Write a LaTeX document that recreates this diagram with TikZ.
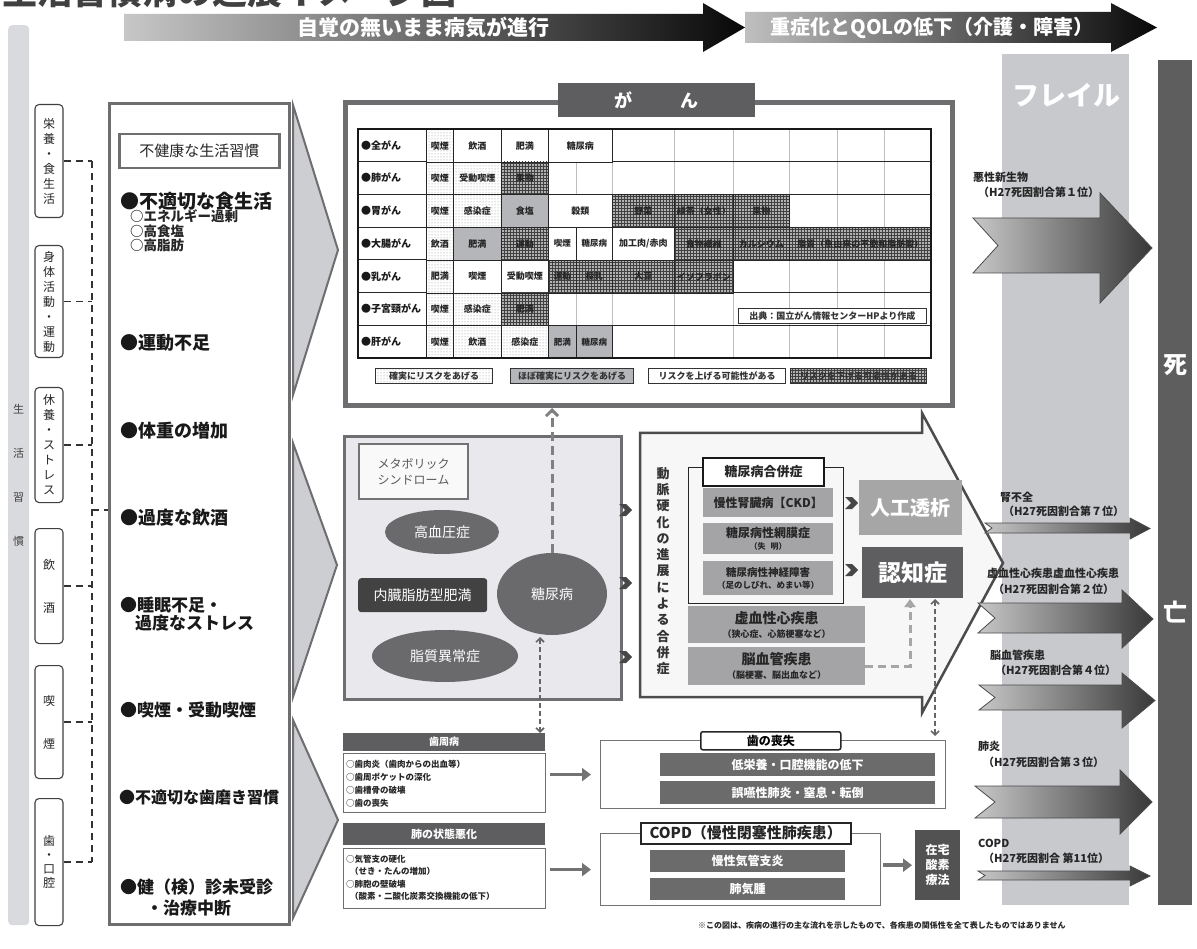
\documentclass[tikz,border=0pt]{standalone}
\usepackage{fontspec}
\setmainfont{Noto Sans CJK JP}
\usetikzlibrary{shapes.geometric,arrows.meta,patterns,calc}
\newcommand\fsz[1]{\fontsize{#1}{#1}\selectfont}
\definecolor{bordg}{HTML}{6E6E70}
\definecolor{darkg}{HTML}{5E5E61}
\definecolor{frailc}{HTML}{C7C9CD}
\definecolor{leftg}{HTML}{D9DADE}
\definecolor{chevc}{HTML}{CDCED2}
\definecolor{metabc}{HTML}{E9E9ED}
\definecolor{ellg}{HTML}{6A6A6D}
\definecolor{barg}{HTML}{A4A4A7}
\definecolor{probg}{HTML}{B5B6BA}
\newcommand\bx[7]{\pgfmathsetmacro\bxw{#4-#2}\pgfmathsetmacro\bxh{#5-#3}%
  \node[inner sep=0pt, #6, anchor=north west, minimum width=\bxw pt, minimum height=\bxh pt] (#1) at (#2,#3) {#7};}
\newcommand\tc[6]{\pgfmathsetmacro\bxw{#3-#2}%
  \node[#5, minimum width=\bxw pt] (#1) at (#2,#4) {#6};}
\newcommand\chip[2]{\fill[black!72] (#1-5,#2-6) -- (#1+2,#2-6) -- (#1+8,#2) -- (#1+2,#2+6) -- (#1-5,#2+6) -- (#1+1,#2) -- cycle;}
\newcommand\darrow[8]{\draw[darr] (#1,#3) -- (#5,#3) -- (#5,#6) -- (#8,{(#6+#7)/2}) -- (#5,#7) -- (#5,#4) -- (#1,#4) -- (#2,{(#3+#4)/2}) -- cycle;}
\begin{document}
\begin{tikzpicture}[x=1pt,y=-1pt,
  cat/.style={draw=black!75, line width=1.1pt, rounded corners=4pt, fill=white, minimum width=28pt, inner sep=0pt, align=center, font=\fontsize{12}{15}\selectfont, text=black!85, anchor=north},
  item/.style={anchor=west, font=\bfseries\fsz{18}, text=black!90, inner sep=0pt},
  sub/.style={anchor=west, font=\bfseries\fsz{13.5}, text=black!85, inner sep=0pt},
  dashc/.style={draw=black!80, line width=1.6pt, dash pattern=on 7pt off 5pt},
  chevron/.style={fill=chevc, draw=bordg, line width=2pt, line join=miter},
  sfill/.style={preaction={fill=white}, pattern=dots, pattern color=black!45},
  dfill/.style={preaction={fill=black!30}, pattern=grid, pattern color=black!75},
  tcell/.style={draw=black!85, line width=0.6pt, font=\bfseries\fsz{9}, text=black!85, anchor=north west, minimum height=32.7pt, inner sep=0pt},
  sure/.style={tcell, sfill},
  prob/.style={tcell, fill=probg},
  poss/.style={tcell, fill=white},
  down/.style={tcell, dfill},
  rowlab/.style={anchor=west, font=\bfseries\fsz{10}, text=black!90, inner sep=0pt},
  legend/.style={draw=black!80, line width=1.2pt, font=\bfseries\fsz{9}, text=black!80},
  ell/.style={ellipse, fill=ellg, text=white, font=\fsz{14}, inner sep=0pt},
  bar/.style={fill=barg, text=black!85, align=center},
  deathlab/.style={font=\bfseries\fsz{11}, text=black!85, anchor=west, inner sep=0pt},
  darr/.style={draw=black!70, line width=0.8pt, left color=black!22, right color=black!78},
  hdr/.style={fill=darkg, text=white, font=\bfseries\fsz{10}},
  listbox/.style={draw=bordg, line width=1pt, fill=white},
  listtxt/.style={anchor=west, font=\bfseries\fsz{8.5}, text=black!85, inner sep=0pt},
  gbar/.style={fill=black!58, text=white, font=\bfseries\fsz{12}},
  grarrow/.style={-{Triangle[length=9pt,width=13pt]}, line width=3.5pt, draw=black!55},
  dmarr/.style={draw=black!50, line width=3pt, dash pattern=on 9pt off 5pt, -{Straight Barb[length=6pt,width=12pt]}},
  thinarr/.style={draw=black!60, line width=1.6pt, dash pattern=on 5pt off 3pt, {Straight Barb[length=4pt,width=8pt]}-{Straight Barb[length=4pt,width=8pt]}}
]
\useasboundingbox (0,0) rectangle (1197,949);
\fill[white] (0,0) rectangle (1197,949);

% title (cut at top): only the lowest strokes show
\begin{scope}
\clip (0,0) rectangle (470,9);
\node[anchor=base west, inner sep=0pt, font=\bfseries\fsz{35}, text=black!75] (title) at (2,5) {生活習慣病の進展イメージ図};
\end{scope}

% top progression arrows
\draw[draw=none, left color=black!22, right color=black!97] (124,14) -- (703,14) -- (703,3) -- (745,27.5) -- (703,52) -- (703,41) -- (124,41) -- cycle;
\node[text=white, font=\bfseries\fsz{21}] (prog1) at (423,27.5) {自覚の無いまま病気が進行};
\draw[draw=none, left color=black!25, right color=black!97] (745,12) -- (1111,12) -- (1111,3) -- (1157,27.5) -- (1111,52) -- (1111,43) -- (745,43) -- cycle;
\node[text=white, font=\bfseries\fsz{20}] (prog2) at (932,28) {重症化とQOLの低下（介護・障害）};

% background columns
\bx{lifecol}{8}{25}{29}{925}{fill=leftg, rounded corners=4pt}{}
\node[font=\fontsize{11}{44}\selectfont, align=center, text=black!75, inner sep=0pt] (lifetxt) at (18.5,475) {生\\活\\習\\慣};
\bx{frail}{1002}{54}{1129}{905}{fill=frailc}{}
\node[text=white, font=\bfseries\fsz{27}] (frailtxt) at (1066,95) {フレイル};
\bx{death}{1158}{60}{1192}{905}{fill=black!63}{}
\node[text=white, font=\bfseries\fsz{24}] (death1) at (1175,365) {死};
\node[text=white, font=\bfseries\fsz{24}] (death2) at (1175,612) {亡};

% category boxes
\node[cat, minimum height=113pt] (c1) at (49,104) {栄\\養\\・\\食\\生\\活};
\node[cat, minimum height=112pt] (c2) at (49,245) {身\\体\\活\\動\\・\\運\\動};
\node[cat, minimum height=115pt] (c3) at (49,387) {休\\養\\・\\ス\\ト\\レ\\ス};
\node[cat, minimum height=115pt] (c4) at (49,528) {飲\\[28pt]酒};
\node[cat, minimum height=113pt] (c5) at (49,665) {喫\\[28pt]煙};
\node[cat, minimum height=127pt, font=\fontsize{12}{14}\selectfont] (c6) at (49,798) {歯\\・\\口\\腔};

% habits box
\bx{habits}{108}{102}{288}{923}{draw=bordg, line width=3pt, fill=white}{}
\bx{habhdr}{118}{133}{278}{167}{draw=bordg, line width=2.5pt, fill=white, font=\fsz{15}, text=black!85}{不健康な生活習慣}
\coordinate (spine) at (92,0);
\coordinate (tick) at (92,510);
\foreach \c in {c1,c2,c3,c4,c5,c6} \draw[dashc] (\c.east) -- (\c.east -| spine);
\draw[dashc] (c1.east -| spine) -- (c6.east -| spine);
\draw[dashc] (tick) -- (tick -| habits.west);

\node[item, font=\bfseries\fsz{19}] (i1) at (120,201) {●不適切な食生活};
\node[sub] (i1a) at (130,216) {○エネルギー過剰};
\node[sub] (i1b) at (130,231) {○高食塩};
\node[sub] (i1c) at (130,245) {○高脂肪};
\node[item] (i2) at (120,343) {●運動不足};
\node[item] (i3) at (120,431) {●体重の増加};
\node[item] (i4) at (120,518) {●過度な飲酒};
\node[item, font=\bfseries\fsz{17}] (i5) at (120,605) {●睡眠不足・};
\node[item, font=\bfseries\fsz{17}] (i5b) at (135,623) {過度なストレス};
\node[item, font=\bfseries\fsz{17}] (i6) at (120,710) {●喫煙・受動喫煙};
\node[item, font=\bfseries\fsz{16}] (i7) at (119,797) {●不適切な歯磨き習慣};
\node[item, font=\bfseries\fsz{17}] (i8) at (120,887) {●健（検）診未受診};
\node[item, font=\bfseries\fsz{17}] (i8b) at (146,908) {・治療中断};

% chevrons
\draw[chevron] (293,105) -- (338,250) -- (293,395) -- cycle;
\draw[chevron] (293,443) -- (337,565) -- (293,697) -- cycle;
\draw[chevron] (293,720) -- (338,820) -- (293,918) -- cycle;

% cancer box
\bx{cancer}{343}{100}{950}{403}{draw=bordg, line width=5pt, fill=white}{}
\bx{canhdr}{558}{83}{755}{117}{fill=darkg, text=white, font=\bfseries\fsz{18}}{が\hspace{48pt}ん}
\foreach \x in {548,576,612,674,733,789,837,884} \draw[black!25, line width=0.6pt] (\x,129) -- (\x,358);
\foreach \y in {161.7,194.4,227.1,259.9,292.6,325.3} \draw[black!85, line width=0.9pt] (358,\y) -- (931,\y);
\draw[black!85, line width=0.9pt] (426,129) -- (426,358);
\node[rowlab] (l0) at (361,145.4) {●全がん};
\node[rowlab] (l1) at (361,178.1) {●肺がん};
\node[rowlab] (l2) at (361,210.8) {●胃がん};
\node[rowlab] (l3) at (361,243.5) {●大腸がん};
\node[rowlab] (l4) at (361,276.2) {●乳がん};
\node[rowlab] (l5) at (361,308.9) {●子宮頸がん};
\node[rowlab] (l6) at (361,341.6) {●肝がん};
\tc{t01}{426}{453}{129}{sure}{喫煙}
\tc{t02}{453}{501}{129}{poss}{飲酒}
\tc{t03}{501}{548}{129}{poss}{肥満}
\tc{t04}{548}{612}{129}{poss}{糖尿病}
\tc{t11}{426}{453}{161.7}{sure}{喫煙}
\tc{t12}{453}{501}{161.7}{sure}{受動喫煙}
\tc{t13}{501}{548}{161.7}{down}{果物}
\tc{t21}{426}{453}{194.4}{sure}{喫煙}
\tc{t22}{453}{501}{194.4}{sure}{感染症}
\tc{t23}{501}{548}{194.4}{prob}{食塩}
\tc{t24}{548}{612}{194.4}{poss}{穀類}
\tc{t25}{612}{674}{194.4}{down}{野菜}
\tc{t26}{674}{733}{194.4}{down}{緑茶（女性）}
\tc{t27}{733}{789}{194.4}{down}{果物}
\tc{t31}{426}{453}{227.1}{sure}{飲酒}
\tc{t32}{453}{501}{227.1}{prob}{肥満}
\tc{t33}{501}{548}{227.1}{down}{運動}
\tc{t34}{548}{576}{227.1}{poss, font=\bfseries\fsz{8.5}}{喫煙}
\tc{t35}{576}{612}{227.1}{poss, font=\bfseries\fsz{8.5}}{糖尿病}
\tc{t36}{612}{674}{227.1}{poss}{加工肉/赤肉}
\tc{t37}{674}{733}{227.1}{down}{食物繊維}
\tc{t38}{733}{789}{227.1}{down}{カルシウム}
\tc{t39}{789}{931}{227.1}{down}{脂質（魚由来の不飽和脂肪酸）}
\tc{t41}{426}{453}{259.9}{sure}{肥満}
\tc{t42}{453}{501}{259.9}{poss}{喫煙}
\tc{t43}{501}{548}{259.9}{poss}{受動喫煙}
\tc{t44}{548}{576}{259.9}{down, font=\bfseries\fsz{8.5}}{運動}
\tc{t45}{576}{612}{259.9}{down, font=\bfseries\fsz{8.5}}{授乳}
\tc{t46}{612}{674}{259.9}{down}{大豆}
\tc{t47}{674}{733}{259.9}{down}{イソフラボン}
\tc{t51}{426}{453}{292.6}{sure}{喫煙}
\tc{t52}{453}{501}{292.6}{sure}{感染症}
\tc{t53}{501}{548}{292.6}{down}{肥満}
\tc{t61}{426}{453}{325.3}{sure}{喫煙}
\tc{t62}{453}{501}{325.3}{sure}{飲酒}
\tc{t63}{501}{548}{325.3}{sure}{感染症}
\tc{t64}{548}{576}{325.3}{prob, font=\bfseries\fsz{8.5}}{肥満}
\tc{t65}{576}{612}{325.3}{prob, font=\bfseries\fsz{8.5}}{糖尿病}
\draw[black!90, line width=1.3pt] (358,129) rectangle (931,358);
\bx{src}{738}{308}{926}{323}{draw=black!80, line width=0.8pt, fill=white, font=\bfseries\fsz{9}, text=black!80}{出典：国立がん情報センターHPより作成}
\bx{lg1}{375}{368}{492}{383}{legend, sfill}{確実にリスクをあげる}
\bx{lg2}{510}{368}{633}{383}{legend, fill=probg}{ほぼ確実にリスクをあげる}
\bx{lg3}{648}{368}{785}{383}{legend, fill=white}{リスクを上げる可能性がある}
\bx{lg4}{790}{368}{926}{383}{legend, dfill}{リスクを下げる可能性がある}

% metabolic syndrome
\bx{metab}{343}{435}{620}{698}{draw=bordg, line width=3pt, fill=metabc}{}
\bx{mslab}{358}{443}{467}{498}{draw=black!55, line width=2pt, fill=white!95!gray, align=center, font=\fontsize{12}{16}\selectfont, text=black!65}{メタボリック\\シンドローム}
\node[ell, minimum width=114pt, minimum height=44pt] (htn) at (442,532) {高血圧症};
\bx{visc}{358}{578}{487}{612}{fill=black!74, rounded corners=3pt, text=white, font=\fsz{14}}{内臓脂肪型肥満}
\node[ell, minimum width=146pt, minimum height=52pt] (dysl) at (445,656) {脂質異常症};
\node[ell, minimum width=110pt, minimum height=82pt] (dm) at (552,594) {糖尿病};
\draw[dmarr] (dm.north) -- (dm.north |- cancer.south);
\chip{624}{510}
\chip{624}{583}
\chip{624}{657}

% complications arrow
\draw[draw=black!70, line width=2.5pt, fill=black!3, line join=miter] (640,433) -- (922,433) -- (922,413) -- (1003,563) -- (922,713) -- (922,697) -- (640,697) -- cycle;
\node[font=\bfseries\fontsize{13}{16.3}\selectfont, align=center, text=black!80, inner sep=0pt] (artlab) at (663,571) {動\\脈\\硬\\化\\の\\進\\展\\に\\よ\\る\\合\\併\\症};
\bx{dmgrp}{688}{467}{843}{603}{draw=black!85, line width=1pt}{}
\bx{dmhdr}{702}{457}{823}{485}{draw=black!90, line width=2pt, fill=white, font=\bfseries\fsz{13}, text=black!85}{糖尿病合併症}
\bx{ckd}{703}{488}{833}{517}{bar, font=\bfseries\fsz{12}}{慢性腎臓病【CKD】}
\bx{retina}{703}{523}{833}{554}{bar, font=\bfseries\fontsize{12}{12}\selectfont}{糖尿病性網膜症\\{\fsz{8}（失\hspace{5pt}明）}}
\bx{neuro}{703}{561}{833}{595}{bar, font=\bfseries\fontsize{10.5}{12}\selectfont}{糖尿病性神経障害\\{\fsz{8.5}（足のしびれ、めまい等）}}
\bx{ihd}{688}{606}{865}{643}{bar, font=\bfseries\fontsize{14}{14}\selectfont}{虚血性心疾患\\{\fsz{9}（狭心症、心筋梗塞など）}}
\bx{cvd}{688}{647}{865}{685}{bar, font=\bfseries\fontsize{14}{14}\selectfont}{脳血管疾患\\{\fsz{9}（脳梗塞、脳出血など）}}
\bx{dial}{859}{480}{962}{535}{fill=black!35, text=white, font=\bfseries\fsz{20}}{人工透析}
\bx{dem}{862}{547}{963}{598}{fill=darkg, text=white, font=\bfseries\fsz{23}}{認知症}
\chip{850}{503}
\chip{850}{570}
\coordinate (demin) at (910,599);
\draw[draw=black!35, line width=3pt, dash pattern=on 8pt off 5pt, -{Triangle[length=8pt,width=11pt]}] (cvd.east) -| (demin);
\coordinate (demb) at (935,599);
\coordinate (lossT) at (935,736);
\draw[thinarr] (demb) -- (lossT);

% death-cause arrows
\darrow{973}{998}{218}{273}{1100}{193}{303}{1152}
\darrow{985}{992}{523}{533}{1130}{518}{539}{1150}
\darrow{978}{995}{603}{633}{1122}{590}{648}{1153}
\darrow{979}{995}{685}{710}{1122}{673}{728}{1155}
\darrow{975}{995}{786}{818}{1120}{770}{834}{1152}
\darrow{978}{985}{871}{880}{1130}{866}{886}{1150}
\node[deathlab] (dl1) at (973,177) {悪性新生物};
\node[deathlab] (dl1b) at (978,192) {（H27死因割合第１位）};
\node[deathlab] (dl2) at (1000,497) {腎不全};
\node[deathlab] (dl2b) at (1003,511) {（H27死因割合第７位）};
\node[deathlab] (dl3) at (987,573) {虚血性心疾患虚血性心疾患};
\node[deathlab] (dl3b) at (993,589) {（H27死因割合第２位）};
\node[deathlab] (dl4) at (990,655) {脳血管疾患};
\node[deathlab] (dl4b) at (995,670) {（H27死因割合第４位）};
\node[deathlab] (dl5) at (978,746) {肺炎};
\node[deathlab] (dl5b) at (983,762) {（H27死因割合第３位）};
\node[deathlab] (dl6) at (978,843) {COPD};
\node[deathlab] (dl6b) at (983,858) {（H27死因割合 第11位）};

% periodontal
\bx{periohdr}{343}{733}{545}{751}{hdr}{歯周病}
\bx{perio}{343}{753}{545}{812}{listbox}{}
\node[listtxt] (p1) at (346,764) {○歯肉炎（歯肉からの出血等）};
\node[listtxt] (p2) at (346,777) {○歯周ポケットの深化};
\node[listtxt] (p3) at (346,790) {○歯槽骨の破壊};
\node[listtxt] (p4) at (346,803) {○歯の喪失};
\coordinate (dmlow) at (540,637);
\draw[thinarr] (dmlow) -- (dmlow |- periohdr.north);
\bx{loss}{600}{740}{945}{808}{draw=black!55, line width=1.2pt, fill=white}{}
\bx{losshdr}{700}{731}{840}{749}{draw=black!85, line width=1.5pt, fill=white, rounded corners=2pt, font=\bfseries\fsz{12}}{歯の喪失}
\bx{lb1}{660}{753}{935}{776}{gbar}{低栄養・口腔機能の低下}
\bx{lb2}{660}{781}{935}{804}{gbar}{誤嚥性肺炎・窒息・転倒}
\draw[grarrow, shorten >=9pt, shorten <=4pt] (perio.east |- loss.west) -- (loss.west);

% lung
\bx{lunghdr}{343}{823}{545}{845}{hdr, font=\bfseries\fsz{11}}{肺の状態悪化}
\bx{lung}{343}{848}{545}{908}{listbox}{}
\node[listtxt] (q1) at (346,859) {○気管支の硬化};
\node[listtxt] (q2) at (350,871) {（せき・たんの増加）};
\node[listtxt] (q3) at (346,884) {○肺胞の壁破壊};
\node[listtxt] (q4) at (350,896) {（酸素・二酸化炭素交換機能の低下）};
\bx{copd}{600}{833}{880}{905}{draw=black!55, line width=1.2pt, fill=white}{}
\bx{copdhdr}{640}{822}{850}{843}{draw=black!85, line width=1.5pt, fill=white, font=\bfseries\fsz{15}, text=black!85}{COPD（慢性閉塞性肺疾患）}
\bx{cb1}{650}{850}{845}{872}{gbar}{慢性気管支炎}
\bx{cb2}{650}{878}{845}{900}{gbar}{肺気腫}
\bx{hot}{915}{830}{960}{900}{fill=black!68, text=white, align=center, font=\bfseries\fontsize{12}{15}\selectfont}{在宅\\酸素\\療法}
\draw[grarrow, shorten >=9pt, shorten <=4pt] (lung.east |- copd.west) -- (copd.west);
\draw[grarrow, shorten >=3pt, shorten <=2pt] (copd.east |- hot.west) -- (hot.west);

\node[font=\bfseries\fsz{8}, text=black!85, anchor=west, inner sep=0pt] (note) at (698,925) {※この図は、疾病の進行の主な流れを示したもので、各疾患の関係性を全て表したものではありません};
\end{tikzpicture}
\end{document}
